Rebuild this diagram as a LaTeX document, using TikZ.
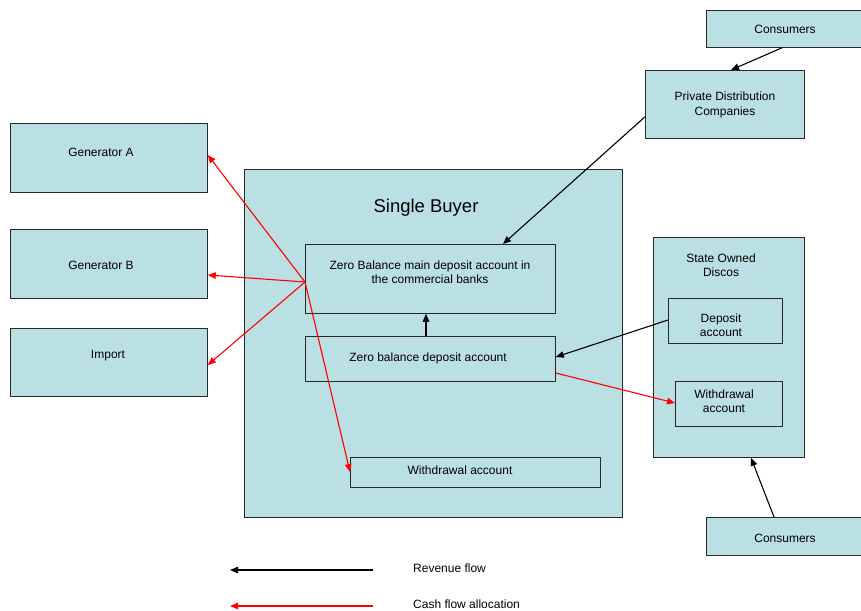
\documentclass[tikz,border=0pt]{standalone}
\usepackage{fontspec}
\setmainfont{Liberation Sans}
\usetikzlibrary{arrows.meta,calc}
\definecolor{boxfill}{RGB}{187,224,227}
\definecolor{boxline}{RGB}{40,40,40}
\begin{document}
\begin{tikzpicture}[x=1pt,y=-1pt,
  box/.style={draw=boxline,fill=boxfill,line width=0.8pt,rectangle,anchor=north west,inner sep=0pt},
  lbl/.style={inner sep=0pt,align=center,font=\fontsize{12}{14.5}\selectfont},
  revenue/.style={draw=black,line width=1.1pt,-{Triangle[length=8pt,width=6.5pt]}},
  cash/.style={draw=red,line width=1.1pt,-{Triangle[length=8pt,width=6.5pt]}}]
\useasboundingbox (0,0) rectangle (861,610);

% generators and import
\node[box,minimum width=197,minimum height=69] (genA) at (10,123) {};
\node[box,minimum width=197,minimum height=69] (genB) at (10,229) {};
\node[box,minimum width=197,minimum height=68] (imp)  at (10,328) {};
\node[lbl] (genAt) at (101,152) {Generator A};
\node[lbl] (genBt) at (101,265) {Generator B};
\node[lbl] (impt)  at (108,356) {Import};

% single buyer and its accounts
\node[box,minimum width=378,minimum height=348] (sb) at (244,169) {};
\node[lbl,font=\fontsize{18.5}{22}\selectfont] (sbt) at (426,208) {Single Buyer};
\node[box,minimum width=250,minimum height=69] (main) at (305,244) {};
\node[lbl] (maint) at (430,272) {Zero Balance main deposit account in\\the commercial banks};
\node[box,minimum width=250,minimum height=45] (zbd) at (305,336) {};
\node[lbl] (zbdt) at (428,358) {Zero balance deposit account};
\node[box,minimum width=250,minimum height=30] (wsb) at (350,457) {};
\node[lbl] (wsbt) at (460,470) {Withdrawal account};

% distribution side
\node[box,minimum width=155,minimum height=37] (consT) at (706,10) {};
\node[lbl] (consTt) at (785,29) {Consumers};
\node[box,minimum width=159,minimum height=68] (pdc) at (645,70) {};
\node[lbl] (pdct) at (725,105) {Private Distribution\\Companies};
\node[box,minimum width=151,minimum height=220] (sod) at (653,237) {};
\node[lbl] (sodt) at (721,265) {State Owned\\Discos};
\node[box,minimum width=114,minimum height=45] (dep) at (668,298) {};
\node[lbl] (dept) at (721,325) {Deposit\\account};
\node[box,minimum width=107,minimum height=45] (wsod) at (675,381) {};
\node[lbl] (wsodt) at (724,401) {Withdrawal\\account};
\node[box,minimum width=155,minimum height=38] (consB) at (706,517) {};
\node[lbl] (consBt) at (785,538) {Consumers};

% revenue flows
\draw[revenue] ($(consT.south west)+(76,0)$) -- ($(pdc.north west)+(86,0)$);
\draw[revenue] ($(pdc.south west)+(0,-22)$) -- ($(main.north west)+(198,0)$);
\draw[revenue] ($(dep.north west)+(0,22)$) -- ($(zbd.north east)+(0,21)$);
\draw[revenue] ($(zbd.north west)+(121,0)$) -- ($(main.south west)+(121,0)$);
\draw[revenue] ($(consB.north west)+(68,0)$) -- ($(sod.south west)+(98,0)$);

% cash flow allocation
\coordinate (hub) at ($(main.north west)+(0,38)$);
\draw[cash] (hub) -- ($(genA.north east)+(0,32)$);
\draw[cash] (hub) -- ($(genB.north east)+(0,46)$);
\draw[cash] (hub) -- ($(imp.north east)+(0,37)$);
\draw[cash] (hub) -- ($(wsb.north west)+(0,15)$);
\draw[cash] ($(zbd.north east)+(0,37)$) -- ($(wsod.north west)+(0,22)$);

% legend
\coordinate (revA) at (373,570);
\coordinate (revB) at (230,570);
\coordinate (cashA) at (373,606);
\coordinate (cashB) at (230,606);
\draw[revenue] (revA) -- (revB);
\draw[cash] (cashA) -- (cashB);
\node[lbl,anchor=west] (revt) at (413,568) {Revenue flow};
\node[lbl,anchor=west] (casht) at (413,604) {Cash flow allocation};
\end{tikzpicture}
\end{document}
